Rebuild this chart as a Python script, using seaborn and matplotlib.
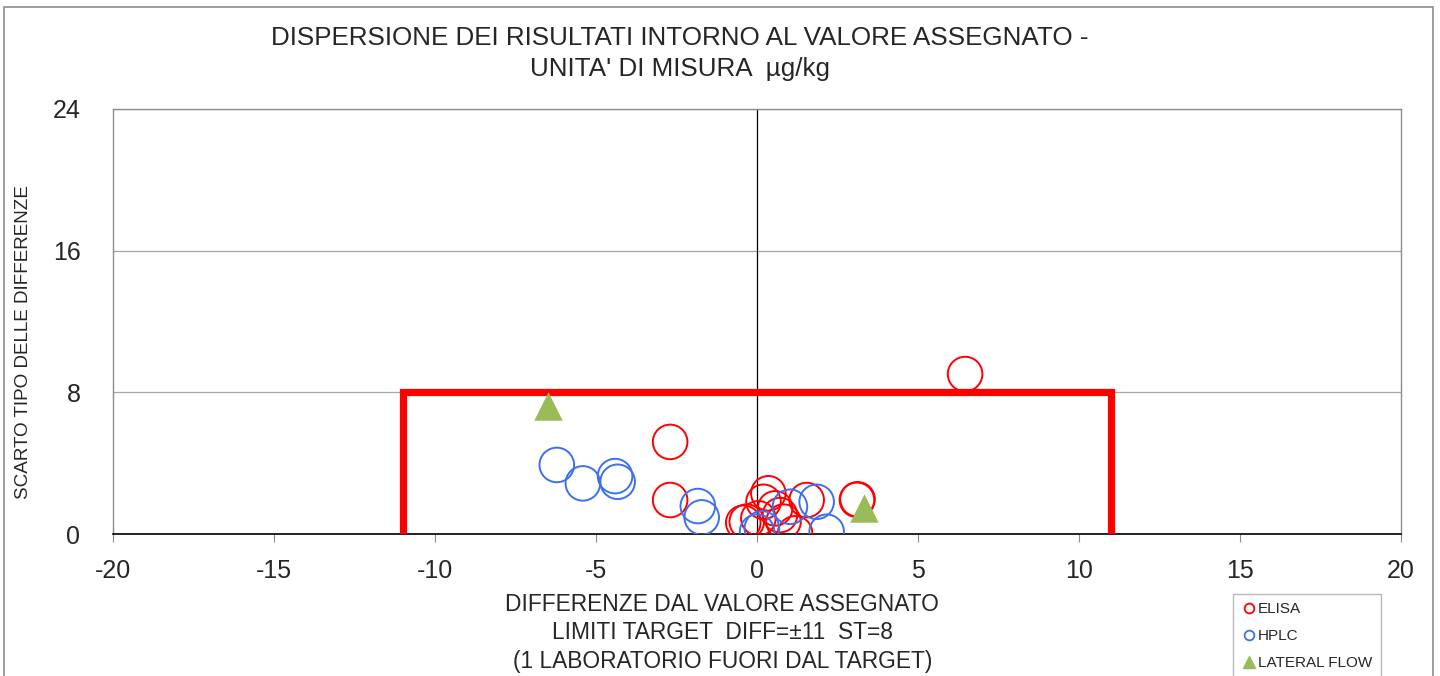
import matplotlib
matplotlib.use('Agg')
import matplotlib.pyplot as plt
import seaborn as sns
from matplotlib.lines import Line2D

# data
elisa_x = [6.46, -2.70, -2.70, 3.12, 3.10, -0.43, 0.35, 0.20, -0.32, 0.04, 0.71, 0.82, 1.54, 1.18, 0.56]
elisa_y = [9.03, 5.20, 1.92, 1.96, 1.93, 0.64, 2.30, 1.82, 0.70, 0.89, 1.07, 0.70, 1.92, 0.04, 1.45]
hplc_x = [-6.22, -5.41, -4.41, -4.33, -1.84, -1.72, 1.02, 1.85, 2.16, 0.00, 0.15]
hplc_y = [3.90, 2.86, 3.27, 2.95, 1.58, 0.94, 1.54, 1.82, 0.13, 0.13, 0.32]
lf_x = [-6.5, 3.33]
lf_y = [7.2, 1.45]
target_x = [-11, -11, 11, 11]
target_y = [0, 8, 8, 0]

sns.set_style('white')
plt.rcParams['font.family'] = ['Liberation Sans', 'DejaVu Sans']
plt.rcParams['axes.unicode_minus'] = False

fig = plt.figure(figsize=(14.4, 6.76), dpi=100)
ax = fig.add_axes([0.0785, 0.210, 0.8945, 0.629])

# target box
ax.plot(target_x, target_y, color='#FF0000', lw=5.2, solid_joinstyle='miter', zorder=3)

ax.axvline(0, color='black', lw=0.9, zorder=2)

sns.scatterplot(x=elisa_x, y=elisa_y, ax=ax, marker='o', s=620,
                fc='none', ec='#FF0000', linewidth=1.4, zorder=4)
sns.scatterplot(x=hplc_x, y=hplc_y, ax=ax, marker='o', s=620,
                fc='none', ec='#3D6FF0', linewidth=1.4, zorder=4)
sns.scatterplot(x=lf_x, y=lf_y, ax=ax, marker='^', s=420,
                color='#9BBB59', linewidth=0, zorder=5)

ax.set_xlim(-20, 20)
ax.set_ylim(0, 24)
ax.set_xticks(range(-20, 21, 5))
ax.set_yticks([0, 8, 16, 24])
ax.yaxis.grid(True, color='#A6A6A6', lw=0.9)
ax.set_axisbelow(True)
for s in ['top', 'right', 'left']:
    ax.spines[s].set_color('#8C8C8C')
    ax.spines[s].set_linewidth(1)
ax.spines['bottom'].set_color('black')
ax.spines['bottom'].set_linewidth(1.2)
ax.tick_params(axis='x', bottom=True, length=6, color='#8C8C8C', labelsize=18, pad=12)
ax.tick_params(axis='y', left=False, labelsize=18, pad=20)

ax.set_xlabel('DIFFERENZE DAL VALORE ASSEGNATO\nLIMITI TARGET  DIFF=\u00b111  ST=8\n(1 LABORATORIO FUORI DAL TARGET)',
              fontsize=16.4, linespacing=1.32)
ax.xaxis.set_label_coords(0.473, -0.138)
ax.xaxis.label.set_verticalalignment('top')
ax.set_ylabel('SCARTO TIPO DELLE DIFFERENZE', fontsize=13.6)
ax.yaxis.set_label_coords(-0.063, 0.452)

fig.text(0.472, 0.962, "DISPERSIONE DEI RISULTATI INTORNO AL VALORE ASSEGNATO -\nUNITA' DI MISURA  \u00b5g/kg",
         ha='center', va='top', fontsize=18.7, linespacing=1.38)

handles = [
    Line2D([], [], marker='o', ls='', mfc='none', mec='#FF0000', ms=7, mew=1.3),
    Line2D([], [], marker='o', ls='', mfc='none', mec='#3D6FF0', ms=7, mew=1.3),
    Line2D([], [], marker='^', ls='', color='#9BBB59', ms=8),
]
leg = fig.legend(handles, ['ELISA', 'HPLC', 'LATERAL FLOW'], loc='upper left',
                 bbox_to_anchor=(0.856, 0.122), fontsize=11, frameon=True,
                 fancybox=False, edgecolor='#A6A6A6', handletextpad=0.1,
                 handlelength=1.0, labelspacing=0.85, borderpad=0.55,
                 borderaxespad=0)
leg.get_frame().set_linewidth(1)

# outer chart border
fig.patches.append(plt.Rectangle((0.003, -0.01), 0.992, 1.0, transform=fig.transFigure,
                                 fill=False, edgecolor='#8C8C8C', lw=1.2))

fig.savefig('out.png', dpi=100)
